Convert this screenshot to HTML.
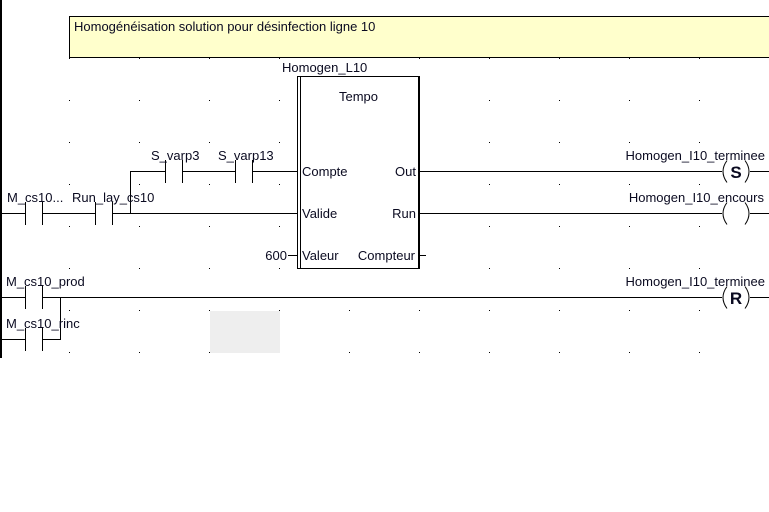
<!DOCTYPE html>
<html><head><meta charset="utf-8"><style>
html,body{margin:0;padding:0;background:#fff;}
svg{display:block;}
text{font-family:"Liberation Sans",Arial,sans-serif;font-size:13px;fill:#0a0a20;}
</style></head><body>
<svg width="769" height="512" viewBox="0 0 769 512">
<g fill="#000">
<rect x="69" y="58" width="1" height="1"/><rect x="139" y="58" width="1" height="1"/><rect x="209" y="58" width="1" height="1"/><rect x="279" y="58" width="1" height="1"/><rect x="419" y="58" width="1" height="1"/><rect x="489" y="58" width="1" height="1"/><rect x="559" y="58" width="1" height="1"/><rect x="629" y="58" width="1" height="1"/><rect x="699" y="58" width="1" height="1"/>
<rect x="69" y="100" width="1" height="1"/><rect x="139" y="100" width="1" height="1"/><rect x="209" y="100" width="1" height="1"/><rect x="279" y="100" width="1" height="1"/><rect x="419" y="100" width="1" height="1"/><rect x="489" y="100" width="1" height="1"/><rect x="559" y="100" width="1" height="1"/><rect x="629" y="100" width="1" height="1"/><rect x="699" y="100" width="1" height="1"/>
<rect x="69" y="142" width="1" height="1"/><rect x="139" y="142" width="1" height="1"/><rect x="209" y="142" width="1" height="1"/><rect x="279" y="142" width="1" height="1"/><rect x="419" y="142" width="1" height="1"/><rect x="489" y="142" width="1" height="1"/><rect x="559" y="142" width="1" height="1"/><rect x="629" y="142" width="1" height="1"/><rect x="699" y="142" width="1" height="1"/>
<rect x="69" y="184" width="1" height="1"/><rect x="139" y="184" width="1" height="1"/><rect x="209" y="184" width="1" height="1"/><rect x="279" y="184" width="1" height="1"/><rect x="419" y="184" width="1" height="1"/><rect x="489" y="184" width="1" height="1"/><rect x="559" y="184" width="1" height="1"/><rect x="629" y="184" width="1" height="1"/><rect x="699" y="184" width="1" height="1"/>
<rect x="69" y="226" width="1" height="1"/><rect x="139" y="226" width="1" height="1"/><rect x="209" y="226" width="1" height="1"/><rect x="279" y="226" width="1" height="1"/><rect x="419" y="226" width="1" height="1"/><rect x="489" y="226" width="1" height="1"/><rect x="559" y="226" width="1" height="1"/><rect x="629" y="226" width="1" height="1"/><rect x="699" y="226" width="1" height="1"/>
<rect x="69" y="268" width="1" height="1"/><rect x="139" y="268" width="1" height="1"/><rect x="209" y="268" width="1" height="1"/><rect x="279" y="268" width="1" height="1"/><rect x="349" y="268" width="1" height="1"/><rect x="419" y="268" width="1" height="1"/><rect x="489" y="268" width="1" height="1"/><rect x="559" y="268" width="1" height="1"/><rect x="629" y="268" width="1" height="1"/><rect x="699" y="268" width="1" height="1"/>
<rect x="69" y="310" width="1" height="1"/><rect x="139" y="310" width="1" height="1"/><rect x="209" y="310" width="1" height="1"/><rect x="279" y="310" width="1" height="1"/><rect x="349" y="310" width="1" height="1"/><rect x="419" y="310" width="1" height="1"/><rect x="489" y="310" width="1" height="1"/><rect x="559" y="310" width="1" height="1"/><rect x="629" y="310" width="1" height="1"/><rect x="699" y="310" width="1" height="1"/>
<rect x="69" y="352" width="1" height="1"/><rect x="139" y="352" width="1" height="1"/><rect x="209" y="352" width="1" height="1"/><rect x="279" y="352" width="1" height="1"/><rect x="349" y="352" width="1" height="1"/><rect x="419" y="352" width="1" height="1"/><rect x="489" y="352" width="1" height="1"/><rect x="559" y="352" width="1" height="1"/><rect x="629" y="352" width="1" height="1"/><rect x="699" y="352" width="1" height="1"/>
</g>
<rect x="0" y="0" width="2" height="358" fill="#000"/>
<rect x="69.5" y="16.5" width="705" height="41" fill="#ffffcc" stroke="#000"/>
<text x="74" y="31">Homogénéisation solution pour désinfection ligne 10</text>
<rect x="210" y="311" width="70" height="42" fill="#eeeeee"/>
<g stroke="#000" stroke-width="1" fill="none">
<path d="M0 213.5H25.5M42.5 213.5H95.5M112.5 213.5H297"/>
<path d="M25.5 202V225M42.5 202V225M95.5 202V225M112.5 202V225"/>
<path d="M130.5 213.5V171.5H165.5M182.5 171.5H235.5M252.5 171.5H297"/>
<path d="M165.5 160V183M182.5 160V183M235.5 160V183M252.5 160V183"/>
<path d="M288 255.5H297M418 255.5H426"/>
<rect x="297.5" y="76.5" width="121" height="192"/>
<path d="M300.5 76.5V268.5"/>
<path d="M418 171.5H722M418 213.5H722M750 171.5H769M750 213.5H769"/>
<path d="M0 297.5H25.5M42.5 297.5H722M750 297.5H769"/>
<path d="M25.5 286V309M42.5 286V309"/>
<path d="M0 339.5H25.5M42.5 339.5H60.5V297.5"/>
<path d="M25.5 328V351M42.5 328V351"/>
<path d="M727 160.5Q719 171.5 727 182.5M745 160.5Q753 171.5 745 182.5"/>
<path d="M727 202.5Q719 213.5 727 224.5M745 202.5Q753 213.5 745 224.5"/>
<path d="M727 286.5Q719 297.5 727 308.5M745 286.5Q753 297.5 745 308.5"/>
</g>
<rect x="418" y="76" width="2" height="193" fill="#000"/>
<text x="7" y="202">M_cs10...</text>
<text x="72" y="202">Run_lay_cs10</text>
<text x="151" y="160">S_varp3</text>
<text x="218" y="160">S_varp13</text>
<text x="282" y="72">Homogen_L10</text>
<text x="339" y="101">Tempo</text>
<text x="302" y="176">Compte</text>
<text x="302" y="218">Valide</text>
<text x="416" y="176" text-anchor="end">Out</text>
<text x="416" y="218" text-anchor="end">Run</text>
<text x="302" y="260">Valeur</text>
<text x="415" y="260" text-anchor="end">Compteur</text>
<text x="287" y="260" text-anchor="end">600</text>
<text x="6" y="286">M_cs10_prod</text>
<text x="6" y="328">M_cs10_rinc</text>
<text x="765" y="160" text-anchor="end">Homogen_I10_terminee</text>
<text x="764" y="202" text-anchor="end">Homogen_I10_encours</text>
<text x="765" y="286" text-anchor="end">Homogen_I10_terminee</text>
<text x="736" y="178" text-anchor="middle" style="font-size:17px;font-weight:bold">S</text>
<text x="736" y="304" text-anchor="middle" style="font-size:17px;font-weight:bold">R</text>
</svg>
</body></html>
